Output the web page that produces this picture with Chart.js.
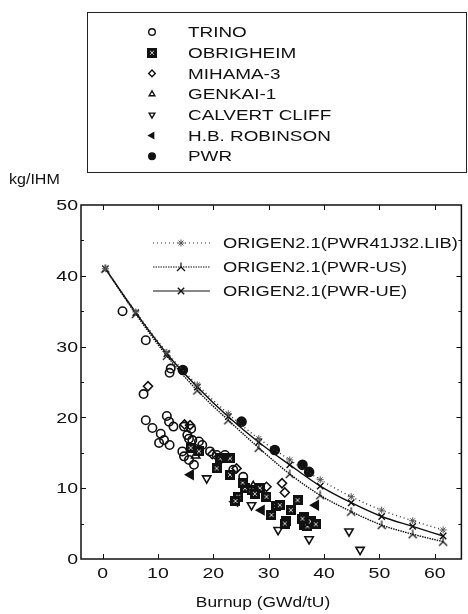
<!DOCTYPE html>
<html>
<head>
<meta charset="utf-8">
<script src="https://cdn.jsdelivr.net/npm/chart.js@4.4.1/dist/chart.umd.min.js"></script>
<style>
    body { margin: 0; background: #fff; }
    #wrap { width: 468px; height: 614px; position: relative; }
</style>
</head>
<body>
<div id="wrap"><canvas id="myChart"></canvas></div>
<script>
// tick labels
const xTicks = [0, 10, 20, 30, 40, 50, 60]
const yTicks = [0, 10, 20, 30, 40, 50]

// ORIGEN2.1 calculations (burnup steps, kg/IHM)
const calcBurnup = [0.5, 6, 11.6, 17.1, 22.7, 28.2, 33.8, 39.3, 44.9, 50.4, 56, 61.5]
const calcLib = [41, 34.9, 29.2, 24.6, 20.5, 17.0, 14.0, 11.2, 8.8, 6.9, 5.4, 4.1]
const calcUS = [41, 34.6, 28.7, 23.8, 19.6, 15.7, 12.0, 9.0, 6.7, 4.8, 3.5, 2.45]
const calcUE = [41, 34.8, 29.0, 24.3, 20.1, 16.5, 13.3, 10.3, 7.95, 6.0, 4.6, 3.25]

// measured values [burnup, kg/IHM]
const trino = [[3.6, 35.0], [7.8, 30.9], [12.3, 26.9], [12.1, 26.3], [7.4, 23.3],
    [7.8, 19.6], [9.0, 18.5], [10.5, 17.7], [11.6, 20.2], [12.0, 19.4], [12.8, 18.7],
    [11.1, 16.8], [12.1, 16.1], [14.4, 15.2], [14.7, 18.7], [15.3, 17.5], [15.6, 17.0],
    [16.2, 16.8], [17.4, 16.6], [18.0, 16.1], [14.7, 14.5], [15.6, 14.0], [16.5, 13.3],
    [19.4, 15.2], [20.6, 14.7], [21.5, 14.2], [22.1, 14.7], [23.6, 12.6], [25.4, 11.6],
    [16.0, 18.4], [10.2, 16.4]]
const obrigheim = [[15.9, 15.7], [17.4, 15.2], [21.2, 14.2], [23.0, 14.2], [20.6, 12.8],
    [23.0, 11.9], [25.7, 10.0], [26.9, 9.7], [24.5, 8.8], [24.0, 8.2], [28.4, 10.0],
    [29.6, 8.8], [31.4, 7.5], [30.5, 6.2], [33.1, 5.3], [34.0, 6.9], [32.0, 7.6],
    [35.2, 8.3], [32.9, 5.0], [36.4, 6.0], [36.4, 4.8], [37.0, 4.6], [37.6, 5.3],
    [38.5, 4.9], [36.1, 5.7], [25.3, 10.8], [27.5, 9.2]]
const mihama = [[8.2, 24.4], [14.8, 19.0], [15.8, 18.9], [24.2, 12.8], [29.6, 10.2],
    [32.4, 10.7], [32.9, 9.4], [19.8, 14.8]]
const genkai = [[16.8, 14.6], [27.2, 10.3]]
const calvert = [[18.8, 11.4], [26.9, 7.6], [31.7, 4.1], [37.3, 2.8], [44.5, 3.9], [46.5, 1.3]]
const robinson = [[15.9, 11.9], [23.9, 8.1], [28.7, 6.9], [38.5, 7.6]]
const pwr = [[14.5, 26.7], [25.1, 19.4], [31.1, 15.4], [36.1, 13.3], [37.3, 12.3]]

const font = "'Liberation Sans', Arial, sans-serif"
const ink = '#111'

function toXY(pts) {
    return pts.map(p => ({ x: p[0], y: p[1] }))
}

function calcXY(vals) {
    return vals.map((v, i) => ({ x: calcBurnup[i], y: v }))
}

function makeMarker(size, draw) {
    const c = document.createElement('canvas')
    c.width = size
    c.height = size
    const g = c.getContext('2d')
    g.strokeStyle = ink
    g.fillStyle = ink
    g.lineWidth = 1.2
    draw(g)
    return c
}

// dark square with light pattern
const hatchSquare = makeMarker(10, g => {
    g.fillRect(0, 0, 10, 10)
    g.fillStyle = '#ccc'
    g.fillRect(3, 3, 1, 1)
    g.fillRect(6, 3, 1, 1)
    g.fillRect(4, 4, 2, 2)
    g.fillRect(3, 6, 1, 1)
    g.fillRect(6, 6, 1, 1)
})

// "Y" like mark of the PWR-US curve
const yMark = makeMarker(10, g => {
    g.beginPath()
    g.moveTo(5, 0.5); g.lineTo(5, 5)
    g.moveTo(5, 5); g.lineTo(1, 9)
    g.moveTo(5, 5); g.lineTo(9, 9)
    g.stroke()
})

function scatterSet(label, pts, style, opts) {
    return Object.assign({
        label: label,
        data: toXY(pts),
        pointStyle: style,
        pointRadius: 4.2,
        borderColor: ink,
        backgroundColor: 'rgba(255,255,255,0)',
        borderWidth: 1.6,
        showLine: false,
        legendGroup: 'top'
    }, opts || {})
}

function calcSet(label, vals, style, opts) {
    return Object.assign({
        label: label,
        data: calcXY(vals),
        pointStyle: style,
        pointRadius: 4,
        borderColor: ink,
        backgroundColor: ink,
        borderWidth: 1.4,
        showLine: true,
        cubicInterpolationMode: 'monotone',
        legendGroup: 'inner'
    }, opts || {})
}

const datasets = [
    calcSet('ORIGEN2.1(PWR41J32.LIB)', calcLib, 'star', { borderDash: [1, 3], borderColor: '#333', pointBorderColor: '#555', pointRadius: 3.5, pointBorderWidth: 1 }),
    calcSet('ORIGEN2.1(PWR-US)', calcUS, yMark, { borderDash: [1.5, 1] }),
    calcSet('ORIGEN2.1(PWR-UE)', calcUE, 'crossRot', { pointRadius: 4.5 }),
    scatterSet('TRINO', trino, 'circle'),
    scatterSet('OBRIGHEIM', obrigheim, hatchSquare),
    scatterSet('MIHAMA-3', mihama, 'rectRot', { pointRadius: 4.5 }),
    scatterSet('GENKAI-1', genkai, 'triangle', { pointRadius: 4.8 }),
    scatterSet('CALVERT CLIFF', calvert, 'triangle', { pointRotation: 180, pointRadius: 4.8 }),
    scatterSet('H.B. ROBINSON', robinson, 'triangle', { pointRotation: -90, pointRadius: 5, backgroundColor: ink }),
    scatterSet('PWR', pwr, 'circle', { backgroundColor: ink, pointRadius: 4.5 })
]

// the scanned lettering is wider than the installed fonts, so stretch it a bit
function drawText(ctx, text, x, y, align, stretch) {
    ctx.save()
    ctx.translate(x, y)
    ctx.scale(stretch, 1)
    ctx.textAlign = align
    ctx.fillText(text, 0, 0)
    ctx.restore()
}

function drawMarker(ctx, ds, x, y, r) {
    ctx.fillStyle = ds.backgroundColor
    ctx.strokeStyle = ds.pointBorderColor || ds.borderColor
    ctx.lineWidth = ds.pointBorderWidth || Math.min(ds.borderWidth, 1.4)
    ctx.setLineDash([])
    Chart.helpers.drawPoint(ctx, {
        pointStyle: ds.pointStyle,
        rotation: ds.pointRotation || 0,
        radius: r,
        borderWidth: ctx.lineWidth
    }, x, y)
}

const decor = {
    id: 'decor',
    afterDraw(chart) {
        const ctx = chart.ctx
        const a = chart.chartArea
        const sx = chart.scales.x
        const sy = chart.scales.y
        ctx.save()

        // frame and inward ticks
        ctx.strokeStyle = ink
        ctx.lineWidth = 1.5
        ctx.strokeRect(a.left, a.top, a.right - a.left, a.bottom - a.top)
        ctx.lineWidth = 1
        ctx.beginPath()
        xTicks.forEach(v => {
            const px = Math.round(sx.getPixelForValue(v)) + 0.5
            ctx.moveTo(px, a.bottom); ctx.lineTo(px, a.bottom - 5)
            ctx.moveTo(px, a.top); ctx.lineTo(px, a.top + 5)
        })
        for (let v = 5; v < 50; v += 5) {
            const py = Math.round(sy.getPixelForValue(v)) + 0.5
            const len = v % 10 === 0 ? 5 : 3
            ctx.moveTo(a.left, py); ctx.lineTo(a.left + len, py)
            ctx.moveTo(a.right, py); ctx.lineTo(a.right - len, py)
        }
        ctx.stroke()

        // tick labels
        ctx.fillStyle = ink
        ctx.font = '15px ' + font
        ctx.textBaseline = 'middle'
        xTicks.forEach(v => drawText(ctx, String(v), sx.getPixelForValue(v), 574, 'center', 1.3))
        yTicks.forEach(v => drawText(ctx, String(v), 78, sy.getPixelForValue(v) + 1, 'right', 1.3))

        // axis titles
        drawText(ctx, 'kg/IHM', 9, 180, 'left', 1.07)
        drawText(ctx, 'Burnup (GWd/tU)', 263, 603, 'center', 1.16)

        // measured data legend box
        ctx.lineWidth = 1
        ctx.strokeStyle = '#222'
        ctx.strokeRect(87.5, 12.5, 379, 160)
        const topSets = chart.data.datasets.filter(d => d.legendGroup === 'top')
        topSets.forEach((ds, i) => {
            const y = 32 + i * 20.7
            drawMarker(ctx, ds, 152, y, 3.3)
            ctx.fillStyle = ink
            drawText(ctx, ds.label, 188, y + 1, 'left', 1.26)
        })

        // calculation legend inside the plot
        const lineSets = chart.data.datasets.filter(d => d.legendGroup === 'inner')
        lineSets.forEach((ds, i) => {
            const y = 243 + i * 24
            ctx.strokeStyle = ds.borderColor
            ctx.lineWidth = 1.2
            ctx.setLineDash(ds.borderDash || [])
            ctx.beginPath()
            ctx.moveTo(153, y); ctx.lineTo(210, y)
            ctx.stroke()
            drawMarker(ctx, ds, 181, y, ds.pointRadius)
            ctx.fillStyle = ink
            drawText(ctx, ds.label, 223, y + 1, 'left', 1.22)
        })
        ctx.restore()
    }
}

const ctx = document.getElementById('myChart')

new Chart(ctx, {
    type: 'scatter',
    data: { datasets: datasets },
    options: {
        responsive: true,
        maintainAspectRatio: false,
        animation: false,
        layout: { padding: { top: 205, right: 3, left: 0, bottom: 0 } },
        plugins: {
            legend: { display: false },
            tooltip: { enabled: false }
        },
        scales: {
            x: {
                type: 'linear',
                min: -3.9,
                max: 64.8,
                afterBuildTicks: scale => { scale.ticks = xTicks.map(v => ({ value: v })) },
                afterFit: scale => { scale.height = 55 },
                grid: { display: false },
                border: { display: false },
                ticks: { display: false }
            },
            y: {
                type: 'linear',
                min: 0,
                max: 50,
                afterBuildTicks: scale => { scale.ticks = yTicks.map(v => ({ value: v })) },
                afterFit: scale => { scale.width = 81 },
                grid: { display: false },
                border: { display: false },
                ticks: { display: false }
            }
        }
    },
    plugins: [decor]
})
</script>
</body>
</html>
